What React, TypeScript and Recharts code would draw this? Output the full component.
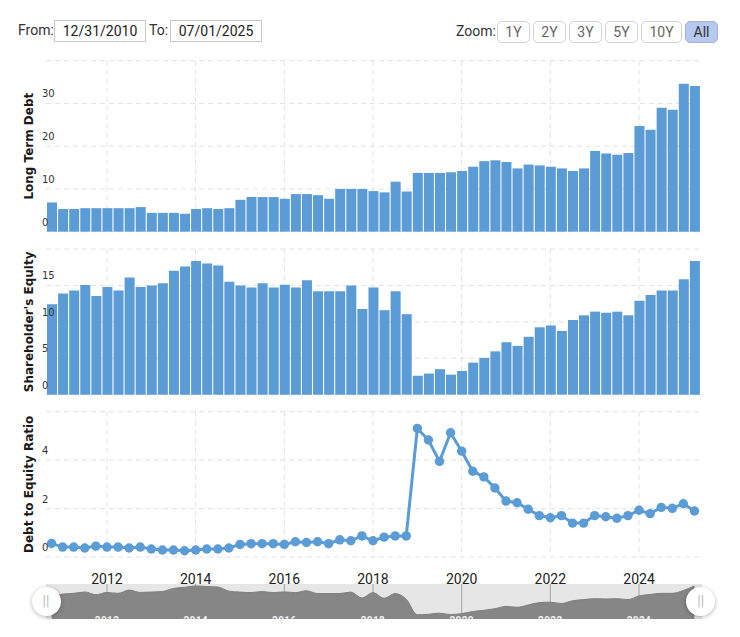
import { ComposedChart, Bar, Line, Area, XAxis, YAxis, CartesianGrid } from 'recharts';

// quarterly, 2010 Q4 .. 2025 Q2
const quarters = [
  '2010-Q4',
  '2011-Q1', '2011-Q2', '2011-Q3', '2011-Q4',
  '2012-Q1', '2012-Q2', '2012-Q3', '2012-Q4',
  '2013-Q1', '2013-Q2', '2013-Q3', '2013-Q4',
  '2014-Q1', '2014-Q2', '2014-Q3', '2014-Q4',
  '2015-Q1', '2015-Q2', '2015-Q3', '2015-Q4',
  '2016-Q1', '2016-Q2', '2016-Q3', '2016-Q4',
  '2017-Q1', '2017-Q2', '2017-Q3', '2017-Q4',
  '2018-Q1', '2018-Q2', '2018-Q3', '2018-Q4',
  '2019-Q1', '2019-Q2', '2019-Q3', '2019-Q4',
  '2020-Q1', '2020-Q2', '2020-Q3', '2020-Q4',
  '2021-Q1', '2021-Q2', '2021-Q3', '2021-Q4',
  '2022-Q1', '2022-Q2', '2022-Q3', '2022-Q4',
  '2023-Q1', '2023-Q2', '2023-Q3', '2023-Q4',
  '2024-Q1', '2024-Q2', '2024-Q3', '2024-Q4',
  '2025-Q1', '2025-Q2',
];

const longTermDebt = [
  6.85, 5.3, 5.3, 5.5, 5.5, 5.5, 5.5, 5.5, 5.75, 4.4, 4.4, 4.4, 4.2, 5.3, 5.5, 5.3, 5.5, 7.45, 8.1, 8.1,
  8.1, 7.7, 8.8, 8.8, 8.55, 7.7, 10, 10, 10, 9.5, 9.2, 11.7, 9.4, 13.75, 13.75, 13.75, 13.9, 14.2, 15.2, 16.5,
  16.7, 16.3, 14.8, 15.7, 15.5, 15.2, 14.8, 14.2, 14.8, 18.9, 18.3, 18, 18.4, 24.7, 23.85, 29, 28.5, 34.6, 34.1,
];

const shareholdersEquity = [
  12.4, 13.9, 14.3, 15.05, 13.55, 14.8, 14.3, 16.1, 14.8, 15, 15.3, 17, 17.6, 18.35, 18, 17.75, 15.5, 15, 14.7, 15.3,
  14.7, 15.1, 14.7, 15.7, 14.2, 14.2, 14.2, 15, 11.75, 14.7, 11.6, 14.2, 11.05, 2.6, 2.9, 3.5, 2.75, 3.25, 4.4, 5.05,
  5.95, 7.2, 6.7, 7.95, 9.25, 9.5, 8.75, 10.25, 10.9, 11.4, 11.25, 11.4, 10.9, 12.9, 13.7, 14.3, 14.3, 15.85, 18.35,
];

const debtToEquity = [
  0.56, 0.41, 0.41, 0.37, 0.45, 0.41, 0.41, 0.37, 0.41, 0.33, 0.29, 0.29, 0.26, 0.29, 0.33, 0.33, 0.37, 0.52, 0.55, 0.55,
  0.55, 0.52, 0.63, 0.6, 0.63, 0.55, 0.71, 0.67, 0.87, 0.67, 0.82, 0.87, 0.87, 5.31, 4.83, 3.95, 5.13, 4.37, 3.54, 3.31,
  2.85, 2.31, 2.24, 1.97, 1.71, 1.62, 1.71, 1.4, 1.4, 1.71, 1.66, 1.6, 1.71, 1.93, 1.79, 2.05, 2.01, 2.2, 1.9,
];

const yearTicks = ['2012-Q1', '2014-Q1', '2016-Q1', '2018-Q1', '2020-Q1', '2022-Q1', '2024-Q1'];
const debtTicks = [0, 10, 20, 30, 40];
const equityTicks = [0, 5, 10, 15, 20];
const ratioTicks = [0, 2, 4, 6];
const zoomButtons = ['1Y', '2Y', '3Y', '5Y', '10Y', 'All'];

const BLUE = '#5b9bd6';
const GRID = '#e2e2e2';
const UI_FONT = 'Roboto, sans-serif';
const AXIS_FONT = '"DejaVu Sans", sans-serif';

const rows = quarters.map((q, i) => ({
  q,
  debt: longTermDebt[i],
  equity: shareholdersEquity[i],
  ratio: debtToEquity[i],
}));

// y tick sits inside the plot, just above its gridline; the top one has no label
function InnerTick({ x, y, payload, top }: any) {
  if (payload.value === top) return null;
  return (
    <text x={x + 4} y={y - 6} fontSize={10} fontFamily={AXIS_FONT} fill="#333" textAnchor="start">
      {payload.value}
    </text>
  );
}

function YearTick({ x, y, payload }: any) {
  return (
    <text x={x} y={y + 19} fontSize={14} fontFamily={UI_FONT} fill="#222" textAnchor="middle">
      {payload.value.slice(0, 4)}
    </text>
  );
}

function NoTick() {
  return null;
}

function NavTick({ x, y, payload }: any) {
  return (
    <text x={x} y={y - 4} fontSize={10} fontWeight={700} fontFamily={UI_FONT} letterSpacing={0.4} fill="#f2f2f2" textAnchor="middle">
      {payload.value.slice(0, 4)}
    </text>
  );
}

function Panel({ top, plotTop, plotHeight, ticks, title, showYears, children }: any) {
  const max = ticks[ticks.length - 1];
  return (
    <div style={{ position: 'absolute', left: 0, top }}>
      <ComposedChart
        width={740}
        height={plotTop + plotHeight + (showYears ? 30 : 2)}
        data={rows}
        barCategoryGap={0}
        margin={{ top: plotTop, right: 40, bottom: showYears ? 29 : 1, left: 45 }}
      >
        <CartesianGrid stroke={GRID} strokeDasharray="5 4" syncWithTicks />
        <XAxis
          dataKey="q"
          scale="band"
          ticks={yearTicks}
          interval={0}
          height={1}
          axisLine={false}
          tickLine={false}
          tick={showYears ? <YearTick /> : <NoTick />}
        />
        <YAxis
          width={1}
          domain={[0, max]}
          ticks={ticks}
          interval={0}
          axisLine={false}
          tickLine={false}
          tick={<InnerTick top={max} />}
          label={{
            value: title,
            angle: -90,
            position: 'left',
            offset: 16,
            style: { fontFamily: AXIS_FONT, fontSize: 12, fontWeight: 600, fill: '#1a1a1a', textAnchor: 'middle' },
          }}
        />
        {children}
      </ComposedChart>
    </div>
  );
}

function Handle({ left }: { left: number }) {
  return (
    <div style={{
      position: 'absolute', left: left - 14.5, top: 587, width: 29, height: 29, borderRadius: '50%',
      background: '#fff', boxShadow: '0 1px 4px rgba(0,0,0,0.3)', color: '#bbb',
      fontFamily: UI_FONT, fontSize: 14, lineHeight: '28px', textAlign: 'center',
    }}>
      ||
    </div>
  );
}

const dateBox = (left: number, width: number): React.CSSProperties => ({
  position: 'absolute', left, top: 20, width, height: 22, boxSizing: 'border-box',
  border: '1px solid #c8c8c8', textAlign: 'center', lineHeight: '20px', color: '#222',
});

export default function App() {
  return (
    <div style={{
      position: 'relative', width: 740, height: 637, margin: -8, background: '#fff',
      overflow: 'hidden', fontFamily: UI_FONT, fontSize: 14,
    }}>
      <div style={{ position: 'absolute', left: 0, top: 0, width: 740, height: 2, background: '#ececec' }} />

      <span style={{ position: 'absolute', left: 18, top: 22, color: '#333' }}>From:</span>
      <div style={dateBox(54, 92)}>12/31/2010</div>
      <span style={{ position: 'absolute', left: 149, top: 22, color: '#333' }}>To:</span>
      <div style={dateBox(170, 92)}>07/01/2025</div>

      <span style={{ position: 'absolute', left: 456, top: 23, color: '#333' }}>Zoom:</span>
      <div style={{ position: 'absolute', left: 497, top: 21, display: 'flex', gap: 3 }}>
        {zoomButtons.map(b => (
          <div key={b} style={{
            width: b === '10Y' ? 41 : 33, height: 22, boxSizing: 'border-box', borderRadius: 5,
            border: b === 'All' ? '1px solid #9fb4dc' : '1px solid #d2d2d2',
            background: b === 'All' ? '#b6c9ef' : '#fff',
            color: b === 'All' ? '#333' : '#666', textAlign: 'center', lineHeight: '20px',
          }}>
            {b}
          </div>
        ))}
      </div>

      <Panel top={50} plotTop={10.7} plotHeight={171} ticks={debtTicks} title="Long Term Debt">
        <Bar dataKey="debt" fill={BLUE} barSize={10} isAnimationActive={false} />
      </Panel>
      <Panel top={240} plotTop={9} plotHeight={145.7} ticks={equityTicks} title="Shareholder's Equity">
        <Bar dataKey="equity" fill={BLUE} barSize={10} isAnimationActive={false} />
      </Panel>
      <Panel top={400} plotTop={11.7} plotHeight={145.3} ticks={ratioTicks} title="Debt to Equity Ratio" showYears>
        <Line
          dataKey="ratio"
          stroke={BLUE}
          strokeWidth={3}
          dot={{ r: 4.7, fill: BLUE, stroke: BLUE, strokeWidth: 0 }}
          isAnimationActive={false}
        />
      </Panel>

      {/* navigator */}
      <div style={{ position: 'absolute', left: 46, top: 583.7, width: 656, height: 35.6, background: '#e6e6e6' }} />
      <div style={{ position: 'absolute', left: 0, top: 583.7 }}>
        <ComposedChart width={740} height={35.6} data={rows} margin={{ top: 0, right: 40, bottom: -1, left: 45 }}>
          <Area type="monotone" dataKey="equity" stroke="#7d7d7d" strokeWidth={1} fill="#868686" fillOpacity={1} dot={false} isAnimationActive={false} />
          <CartesianGrid stroke="#a4a4a4" horizontal={false} syncWithTicks />
          <XAxis dataKey="q" scale="band" ticks={yearTicks} interval={0} height={1} axisLine={false} tickLine={false} tick={<NavTick />} />
          <YAxis width={1} domain={[0, 19.4]} tick={false} axisLine={false} tickLine={false} />
        </ComposedChart>
      </div>
      <Handle left={46} />
      <Handle left={700.7} />
    </div>
  );
}
